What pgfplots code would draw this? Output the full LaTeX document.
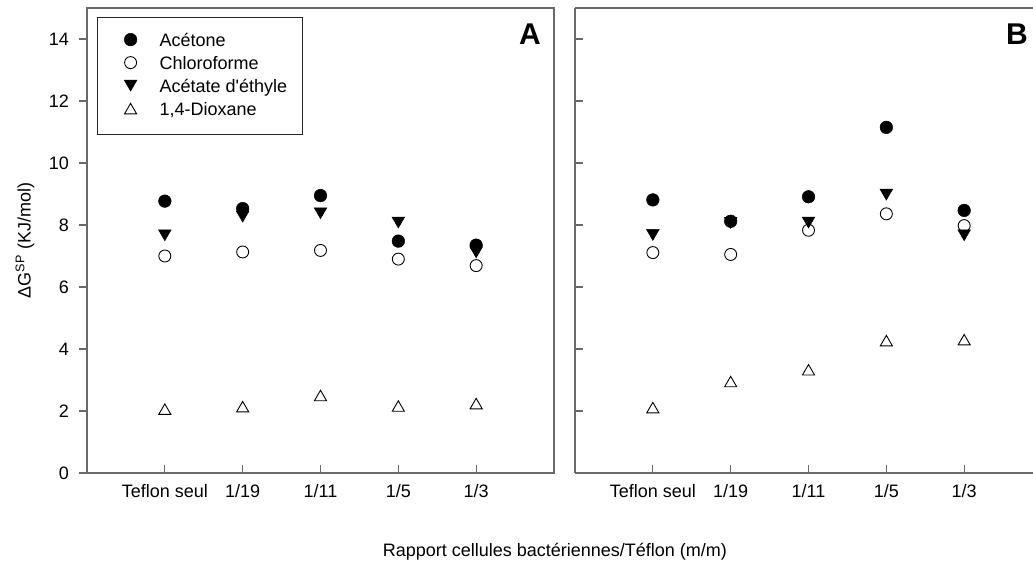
\documentclass[border=0pt]{standalone}
\usepackage{fontspec}
\setmainfont{Liberation Sans}
\newfontfamily\plainfont{Liberation Sans}
\usepackage{pgfplots}
\usepackage{pgfplotstable}
\pgfplotsset{compat=1.18}
\definecolor{axgray}{RGB}{105,105,105}

\pgfplotstableread{
x acet chloro acetate diox
1 8.77 7.00 7.67 2.06
2 8.53 7.13 8.27 2.14
3 8.95 7.18 8.38 2.50
4 7.48 6.90 8.08 2.16
5 7.35 6.69 7.12 2.24
}\dataA
\pgfplotstableread{
x acet chloro acetate diox
1 8.81 7.11 7.68 2.11
2 8.12 7.05 8.07 2.95
3 8.91 7.83 8.08 3.33
4 11.15 8.36 8.98 4.27
5 8.47 7.98 7.67 4.30
}\dataB

\pgfplotsset{
  common/.style={
    scale only axis,
    height=465pt,
    xmin=0, ymin=0, ymax=15,
    xtick={1,2,3,4,5},
    xticklabels={Teflon seul,1/19,1/11,1/5,1/3},
    ytick={0,2,4,6,8,10,12,14},
    xtick pos=bottom, ytick pos=left,
    xtick align=inside,
    major tick length=8pt,
    tick style={axgray, line width=1.2pt},
    axis line style={axgray, line width=1.3pt},
    tick label style={font=\fontsize{18}{21}\selectfont},
    /pgf/number format/assume math mode=true,
    xticklabel style={anchor=base, inner sep=0pt, yshift=-25pt},
    clip=false,
  },
  sacet/.style={only marks, mark=*, mark size=6.3pt, mark options={fill=black, draw=black, line width=0.5pt}},
  schloro/.style={only marks, mark=o, mark size=6pt, mark options={draw=black, fill=white, line width=0.9pt}},
  sacetate/.style={only marks, mark=triangle*, mark size=7.3pt, mark options={yshift=1.8pt, rotate=180, fill=black, draw=black, line width=0.5pt}},
  sdiox/.style={only marks, mark=triangle, mark size=7pt, mark options={yshift=-1.75pt, draw=black, fill=white, line width=0.9pt}},
}

\begin{document}
\begin{tikzpicture}
\begin{axis}[common,
  at={(87pt,94pt)}, width=467pt, xmax=6,
  ytick align=outside,
  yticklabel style={anchor=east, inner sep=0pt, xshift=-10pt},
  every axis y label/.style={at={(axis description cs:-0.1328,0.5)}, rotate=90, anchor=center, font=\fontsize{18}{21}\selectfont},
  every axis x label/.style={at={(axis description cs:1.002,-0.17)}, anchor=center, font=\fontsize{18}{21}\selectfont},
  ylabel={ΔG\textsuperscript{SP} (KJ/mol)},
  xlabel={Rapport cellules bactériennes/Téflon (m/m)},
  legend cell align=left,
  legend image code/.code={\path[draw=none, fill=none] (0pt,2pt) -- (36pt,2pt); \draw[#1, only marks] plot coordinates {(18pt,2pt)};},
  legend style={at={(axis description cs:0.0214,0.9806)}, anchor=north west,
    draw=black!85, line width=1.2pt, fill=white,
    inner xsep=15pt, inner ysep=15.5pt, row sep=6pt, column sep=11pt,
    font=\fontsize{18}{21}\selectfont,
    nodes={inner sep=0pt, text height=13pt, text depth=4pt}},
]
\addplot[sacet] table[x=x, y=acet] {\dataA};
\addlegendentry{Acétone}
\addplot[schloro] table[x=x, y=chloro] {\dataA};
\addlegendentry{Chloroforme}
\addplot[sacetate] table[x=x, y=acetate] {\dataA};
\addlegendentry{Acétate d{\plainfont'}éthyle}
\addplot[sdiox] table[x=x, y=diox] {\dataA};
\addlegendentry{1,4-Dioxane}
\node[font=\fontsize{30}{36}\selectfont\bfseries] at (rel axis cs:0.9486,0.944) {A};
\end{axis}

\begin{axis}[common,
  at={(575pt,94pt)}, width=458pt, xmax=5.8843,
  every non boxed y axis/.style={},
  axis x line=box, axis y line=left,
  y axis line style={-},
  ytick align=inside,
  yticklabels={},
]
\addplot[sacet] table[x=x, y=acet] {\dataB};
\addplot[schloro] table[x=x, y=chloro] {\dataB};
\addplot[sacetate] table[x=x, y=acetate] {\dataB};
\addplot[sdiox] table[x=x, y=diox] {\dataB};
\node[font=\fontsize{30}{36}\selectfont\bfseries] at (rel axis cs:0.965,0.944) {B};
\end{axis}
\pgfresetboundingbox
\useasboundingbox (0pt,0pt) rectangle (1033pt,567pt);
\end{tikzpicture}
\end{document}
